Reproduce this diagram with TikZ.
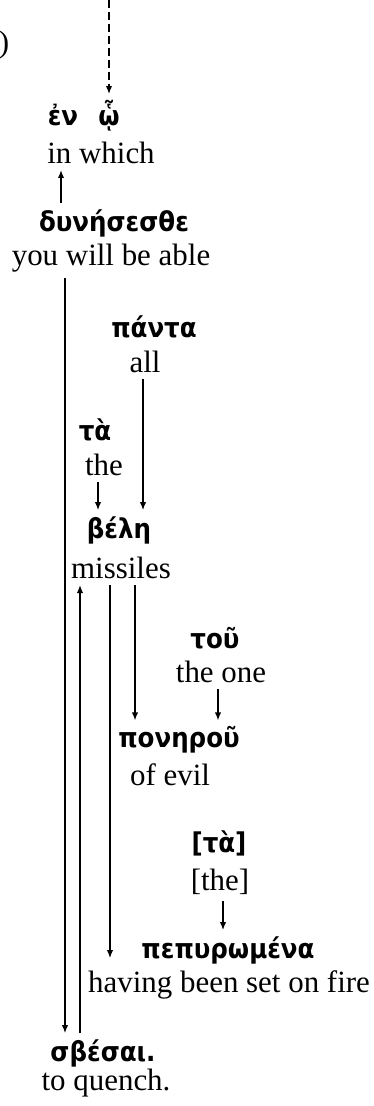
\documentclass[tikz,border=0pt]{standalone}
\usepackage{fontspec}
\setmainfont{Liberation Serif}
\newfontfamily\grkfont{DejaVu Sans Condensed}
\usetikzlibrary{arrows.meta, positioning, calc}

\tikzset{
  grk/.style={font=\grkfont\bfseries\fontsize{15.5}{18}\selectfont},
  gls/.style={font=\fontsize{17.6}{20}\selectfont},
  link/.style={-{Latex[length=4.5pt,width=3.6pt]}, line width=0.75pt},
}

\begin{document}
\begin{tikzpicture}
  \useasboundingbox (0,0) rectangle (7.48,-22.12);
  % head of the clause
  \node[gls, anchor=east, inner sep=0pt] (paren) at (0.19,-0.90) {)};
  \coordinate (src) at (2.18,0);
  \node[grk] (en) at (1.26,-2.30) {ἐν};
  \node[grk, anchor=base] (ho) at (en.base -| src) {ᾧ};
  \node[gls] (inwhich) at (2.02,-3.06) {in which};
  \node[grk] (dyn) at (2.28,-4.46) {δυνήσεσθε};
  \node[gls] (dyngl) at (2.22,-5.16) {you will be able};
  % object
  \node[grk] (panta) at (3.08,-6.54) {πάντα};
  \node[gls] (all) at (2.90,-7.24) {all};
  \node[grk] (ta) at (1.90,-8.60) {τὰ};
  \node[gls] (the) at (2.08,-9.30) {the};
  \node[grk] (bele) at (2.38,-10.60) {βέλη};
  \node[gls] (mis) at (2.42,-11.36) {missiles};
  \node[grk] (tou) at (4.30,-12.76) {τοῦ};
  \node[gls] (theone) at (4.42,-13.44) {the one};
  \node[grk] (pon) at (3.58,-14.80) {πονηροῦ};
  \node[gls] (evil) at (3.40,-15.50) {of evil};
  \node[grk] (bta) at (4.38,-16.86) {[τὰ]};
  \node[gls] (bthe) at (4.40,-17.64) {[the]};
  \node[grk] (pep) at (4.56,-19.00) {πεπυρωμένα};
  \node[gls] (fire) at (4.58,-19.70) {having been set on fire};
  % infinitive
  \node[grk] (sbe) at (2.06,-21.06) {σβέσαι.};
  \node[gls] (quench) at (2.12,-21.66) {to quench.};

  \draw[link, dash pattern=on 4.5pt off 2.3pt] (src) -- (ho.north);
  \draw[link] ([xshift=-1.06cm]dyn.north) -- ([xshift=-1.06cm]dyn.north |- inwhich.south);
  \draw[link] ([xshift=-0.92cm]dyngl.south) -- ([xshift=-0.92cm]dyngl.south |- sbe.north);
  \draw[link] ([xshift=-0.04cm]all.south) -- ([xshift=-0.04cm]all.south |- bele.north);
  \draw[link] ([xshift=-0.12cm]the.south) -- ([xshift=-0.12cm]the.south |- bele.north);
  \draw[link] ([xshift=-0.82cm]mis.south |- sbe.north) -- ([xshift=-0.82cm]mis.south);
  \draw[link] ([xshift=-0.22cm]mis.south) -- ([xshift=-0.22cm]mis.south |- pep.base);
  \draw[link] ([xshift=0.28cm]mis.south) -- ([xshift=0.28cm]mis.south |- pon.north);
  \draw[link] ([xshift=-0.06cm]theone.south) -- ([xshift=-0.06cm]theone.south |- pon.north);
  \draw[link] ([xshift=0.06cm]bthe.south) -- ([xshift=0.06cm]bthe.south |- pep.north);
\end{tikzpicture}
\end{document}
